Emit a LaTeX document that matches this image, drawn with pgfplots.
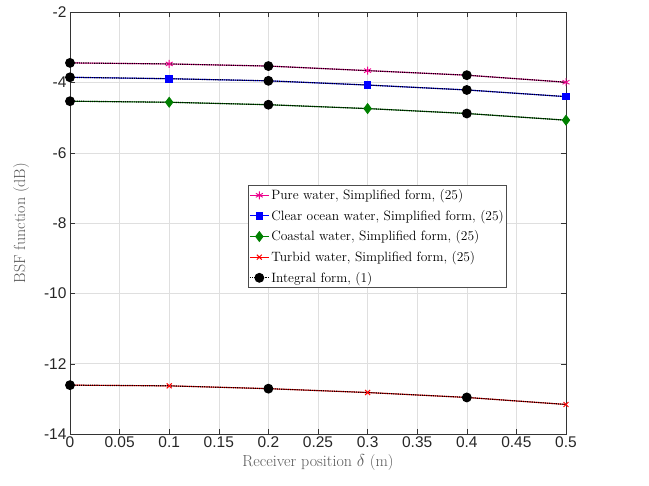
\documentclass[border=0pt]{standalone}
\usepackage{fontspec}
\usepackage{pgfplots}
\pgfplotsset{compat=1.18}
\newfontfamily\tickfont{Liberation Sans}
\begin{document}
\begin{tikzpicture}
\path[use as bounding box] (-70pt,-52pt) rectangle (579pt,434pt);
\begin{axis}[
  scale only axis,
  width=496pt, height=421.7pt,
  xmin=0, xmax=0.5, ymin=-14, ymax=-2,
  xtick={0,0.05,...,0.5},
  xticklabels={0,0.05,0.1,0.15,0.2,0.25,0.3,0.35,0.4,0.45,0.5},
  ytick={-14,-12,...,-2},
  yticklabels={-14,-12,-10,-8,-6,-4,-2},
  tick align=inside,
  major tick length=5pt,
  grid=major,
  grid style={gray!25, line width=0.5pt},
  axis line style={black!80, line width=0.6pt},
  tick style={black!80},
  ticklabel style={font=\tickfont\fontsize{15.5}{17}\selectfont, text=black!85},
  xticklabel style={yshift=1pt},
  xlabel={Receiver position $\delta$ (m)},
  ylabel={BSF function (dB)},
  label style={font=\fontsize{16}{18}\selectfont, text=black!65},
  xlabel style={yshift=0pt},
  ylabel style={yshift=8pt},
  legend style={at={(0.359,0.59)}, anchor=north west, font=\fontsize{13.5}{16}\selectfont,
    draw=black!70, line width=0.6pt, inner xsep=1pt, inner ysep=2pt, row sep=5pt,
    legend cell align=left},
  legend image code/.code={
    \draw[mark repeat=2,mark phase=2] plot coordinates {(0cm,0cm) (0.33cm,0cm) (0.66cm,0cm)};},
]
\addplot[magenta, line width=1pt, mark=asterisk, mark size=4pt, mark repeat=2, mark phase=2,
  mark options={solid, line width=0.9pt}]
  coordinates {(0,-3.44) (0.1,-3.47) (0.2,-3.53) (0.3,-3.66) (0.4,-3.79) (0.5,-3.99)};
\addlegendentry{Pure water, Simplified form, (25)}
\addplot[blue, line width=1pt, mark=square*, mark size=3.3pt, mark repeat=2, mark phase=2,
  mark options={solid}]
  coordinates {(0,-3.85) (0.1,-3.89) (0.2,-3.95) (0.3,-4.07) (0.4,-4.21) (0.5,-4.40)};
\addlegendentry{Clear ocean water, Simplified form, (25)}
\addplot[black!50!green, line width=1pt, mark=diamond*, mark size=4.8pt, mark repeat=2, mark phase=2,
  mark options={solid}]
  coordinates {(0,-4.53) (0.1,-4.56) (0.2,-4.63) (0.3,-4.74) (0.4,-4.88) (0.5,-5.07)};
\addlegendentry{Coastal water, Simplified form, (25)}
\addplot[red, line width=1pt, mark=x, mark size=3.5pt, mark repeat=2, mark phase=2,
  mark options={solid, line width=1pt}]
  coordinates {(0,-12.61) (0.1,-12.63) (0.2,-12.71) (0.3,-12.82) (0.4,-12.96) (0.5,-13.16)};
\addlegendentry{Turbid water, Simplified form, (25)}
\addplot[black, line width=1.2pt, densely dotted, mark=*, mark size=4.3pt, mark repeat=2, mark phase=1,
  mark options={solid}]
  coordinates {(0,-3.44) (0.1,-3.47) (0.2,-3.53) (0.3,-3.66) (0.4,-3.79) (0.5,-3.99)};
\addlegendentry{Integral form, (1)}
\addplot[black, line width=1.2pt, densely dotted, mark=*, mark size=4.3pt, mark repeat=2, mark phase=1,
  mark options={solid}, forget plot]
  coordinates {(0,-3.85) (0.1,-3.89) (0.2,-3.95) (0.3,-4.07) (0.4,-4.21) (0.5,-4.40)};
\addplot[black, line width=1.2pt, densely dotted, mark=*, mark size=4.3pt, mark repeat=2, mark phase=1,
  mark options={solid}, forget plot]
  coordinates {(0,-4.53) (0.1,-4.56) (0.2,-4.63) (0.3,-4.74) (0.4,-4.88) (0.5,-5.07)};
\addplot[black, line width=1.2pt, densely dotted, mark=*, mark size=4.3pt, mark repeat=2, mark phase=1,
  mark options={solid}, forget plot]
  coordinates {(0,-12.61) (0.1,-12.63) (0.2,-12.71) (0.3,-12.82) (0.4,-12.96) (0.5,-13.16)};
\end{axis}
\end{tikzpicture}
\end{document}
